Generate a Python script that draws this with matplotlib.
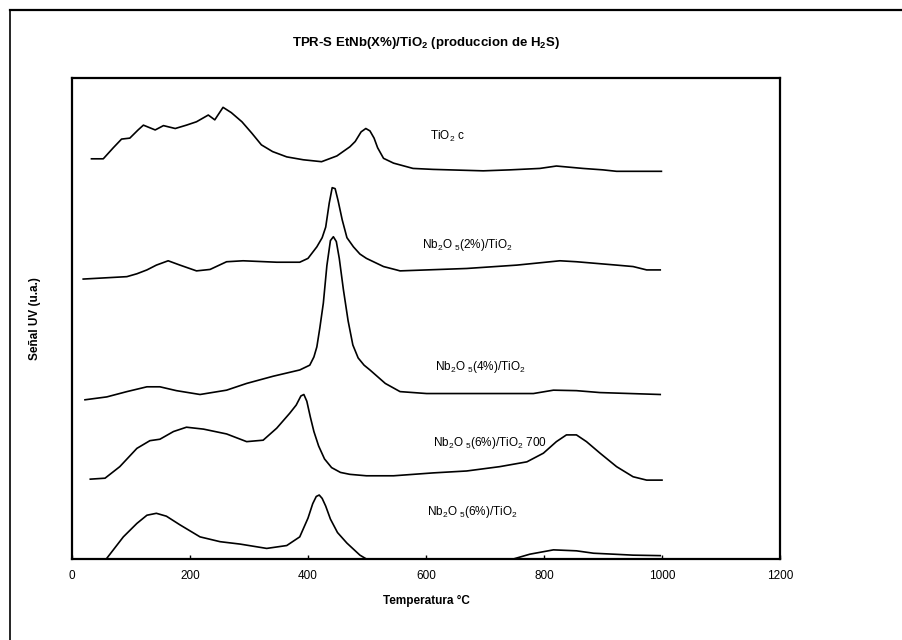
import matplotlib
matplotlib.use("Agg")
import matplotlib.pyplot as plt
from matplotlib.lines import Line2D

plt.rcParams['font.family'] = ['Liberation Sans', 'DejaVu Sans']
plt.rcParams['mathtext.fontset'] = 'custom'
plt.rcParams['mathtext.rm'] = 'Liberation Sans'
plt.rcParams['mathtext.it'] = 'Liberation Sans'
plt.rcParams['mathtext.bf'] = 'Liberation Sans:bold'
plt.rcParams['mathtext.default'] = 'regular'

# ---- data (temperature in °C, signal in arbitrary units, offset per curve) ----
tio2_t = [33, 53, 70, 84, 98, 112, 121, 141, 155, 175, 194, 211, 231, 242, 256, 270,
          288, 305, 321, 340, 364, 392, 423, 449, 471, 480, 490, 498, 505, 512, 518,
          528, 545, 578, 612, 697, 742, 793, 821, 866, 900, 923, 999]
tio2_y = [83.2, 83.2, 85.5, 87.3, 87.5, 89.2, 90.2, 89.2, 90.1, 89.5, 90.2, 90.9, 92.3,
          91.3, 93.9, 92.8, 90.9, 88.5, 86.1, 84.7, 83.6, 83.0, 82.6, 83.8, 85.7, 86.8,
          88.8, 89.5, 89.0, 87.5, 85.5, 83.3, 82.3, 81.2, 81.0, 80.7, 80.9, 81.2, 81.7,
          81.2, 80.9, 80.6, 80.6]

nb2_t = [19, 93, 110, 127, 143, 163, 183, 211, 234, 262, 290, 347, 386, 400, 415, 424,
         430, 436, 441, 446, 451, 458, 466, 477, 488, 499, 528, 550, 556, 669, 754, 827,
         855, 923, 951, 974, 997]
nb2_y = [58.2, 58.7, 59.3, 60.1, 61.1, 62.0, 61.1, 59.9, 60.2, 61.8, 62.0, 61.7, 61.7,
         62.5, 64.9, 66.8, 69.0, 74.0, 77.2, 77.0, 74.5, 70.5, 66.8, 64.9, 63.4, 62.5,
         60.8, 60.1, 59.9, 60.4, 61.1, 62.0, 61.8, 61.1, 60.8, 60.1, 60.1]

nb4_t = [22, 59, 93, 127, 149, 177, 217, 262, 296, 341, 386, 403, 410, 415, 420, 426,
         432, 438, 443, 448, 453, 460, 468, 476, 485, 495, 505, 531, 556, 601, 697, 782,
         816, 855, 895, 997]
nb4_y = [33.1, 33.7, 34.8, 35.8, 35.8, 35.0, 34.2, 35.1, 36.5, 38.0, 39.3, 40.3, 42.0,
         44.1, 48.0, 53.2, 61.0, 66.2, 67.0, 66.0, 62.5, 56.0, 49.5, 44.5, 41.8, 40.3,
         39.3, 36.5, 34.8, 34.4, 34.4, 34.4, 35.1, 35.0, 34.6, 34.2]

nb6c_t = [31, 56, 81, 110, 132, 149, 172, 194, 223, 262, 296, 324, 347, 369, 380, 388,
          393, 398, 404, 410, 418, 428, 440, 455, 471, 499, 545, 612, 669, 725, 771, 799,
          821, 838, 855, 872, 895, 923, 951, 974, 1000]
nb6c_y = [16.6, 16.8, 19.2, 23.0, 24.6, 24.9, 26.5, 27.4, 27.0, 26.0, 24.4, 24.7, 27.2,
          30.3, 32.0, 33.9, 34.2, 32.8, 29.5, 26.5, 23.5, 20.8, 19.0, 18.0, 17.6, 17.3,
          17.3, 17.9, 18.3, 19.2, 20.2, 22.0, 24.4, 25.8, 25.8, 24.4, 22.0, 19.2, 17.1,
          16.4, 16.4]

nb6_t = [59, 87, 110, 127, 143, 160, 183, 217, 251, 285, 330, 364, 386, 400, 408, 414,
         419, 424, 430, 438, 450, 466, 488, 499, 748, 776, 816, 855, 884, 918, 951, 997]
nb6_y = [0.15, 4.6, 7.4, 9.1, 9.5, 8.9, 7.1, 4.6, 3.6, 3.1, 2.2, 2.8, 4.6, 8.5, 11.5,
         13.0, 13.3, 12.6, 11.0, 8.3, 5.5, 3.3, 0.8, 0.0, 0.0, 1.0, 1.9, 1.7, 1.2, 1.0,
         0.8, 0.7]

series = [
    (tio2_t, tio2_y, r"TiO$_2$ c", 607, 87.8),
    (nb2_t, nb2_y, r"Nb$_2$O $_5$(2%)/TiO$_2$", 593, 65.3),
    (nb4_t, nb4_y, r"Nb$_2$O $_5$(4%)/TiO$_2$", 615, 39.9),
    (nb6c_t, nb6c_y, r"Nb$_2$O $_5$(6%)/TiO$_2$ 700", 612, 24.1),
    (nb6_t, nb6_y, r"Nb$_2$O $_5$(6%)/TiO$_2$", 602, 9.8),
]

xticks = [0, 200, 400, 600, 800, 1000, 1200]

# ---- figure ----
fig = plt.figure(figsize=(9.03, 6.40), dpi=100)
ax = fig.add_axes([72 / 903, 1 - 559 / 640, 708 / 903, 481 / 640])

for t, y, lab, lx, ly in series:
    ax.plot(t, y, color='black', lw=1.2, solid_joinstyle='round')
    ax.text(lx, ly, lab, fontsize=8.5, va='center', ha='left', color='black')

ax.set_xlim(0, 1200)
ax.set_ylim(0, 100)
ax.set_xticks(xticks)
ax.set_xticklabels([str(v) for v in xticks], fontsize=8.5)
ax.set_yticks([])
ax.tick_params(axis='x', direction='in', length=3, width=1, pad=8)
for s in ax.spines.values():
    s.set_linewidth(1.6)
    s.set_color('black')

ax.set_xlabel("Temperatura °C", fontsize=8.5, fontweight='bold', labelpad=9)
ax.set_ylabel("Señal UV (u.a.)", fontsize=8.5, fontweight='bold', labelpad=22)

fig.text(426 / 903, 1 - 43 / 640, r"TPR-S EtNb(X%)/TiO$_2$ (produccion de H$_2$S)",
         ha='center', va='center', fontsize=9.5, fontweight='bold')

# outer frame of the scanned figure
fig.add_artist(Line2D([10 / 903, 10 / 903], [0, 1 - 10 / 640], color='black', lw=1.2))
fig.add_artist(Line2D([10 / 903, 1], [1 - 10 / 640, 1 - 10 / 640], color='black', lw=1.6))

fig.savefig("out.png", dpi=100)
